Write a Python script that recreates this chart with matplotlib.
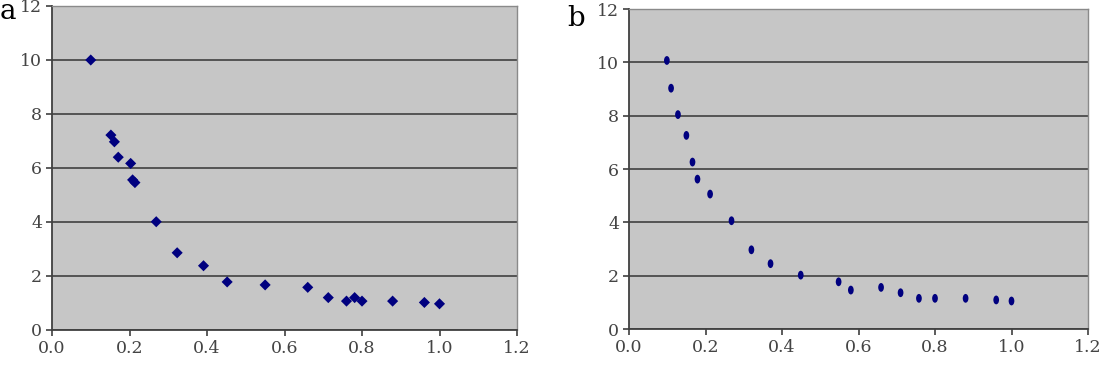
"""
Two scatter panels (a, b): decay of y with x, Excel-style grey plot area.
"""
import numpy as np
import matplotlib
matplotlib.use("Agg")
import matplotlib.pyplot as plt
from matplotlib.path import Path
from matplotlib.transforms import Affine2D

# panel a
xa = [0.10, 0.152, 0.161, 0.171, 0.203, 0.208, 0.214, 0.269, 0.323, 0.391,
      0.452, 0.55, 0.66, 0.713, 0.76, 0.781, 0.80, 0.879, 0.961, 1.0]
ya = [10.0, 7.22, 6.97, 6.4, 6.17, 5.56, 5.46, 4.01, 2.86, 2.38,
      1.78, 1.67, 1.58, 1.2, 1.07, 1.2, 1.07, 1.07, 1.02, 0.97]

# panel b
xb = [0.099, 0.11, 0.128, 0.15, 0.166, 0.179, 0.212, 0.268, 0.32, 0.37,
      0.449, 0.548, 0.58, 0.659, 0.71, 0.758, 0.80, 0.88, 0.96, 1.0]
yb = [10.07, 9.03, 8.04, 7.26, 6.26, 5.62, 5.06, 4.06, 2.97, 2.45,
      2.02, 1.77, 1.46, 1.56, 1.36, 1.15, 1.15, 1.15, 1.09, 1.05]

XTICKS = [0.0, 0.2, 0.4, 0.6, 0.8, 1.0, 1.2]
YTICKS = [0, 2, 4, 6, 8, 10, 12]

NAVY = "#00007f"
BG = "#c6c6c6"
GRID = "#4a4a4a"

plt.rcParams.update({"font.family": ["DejaVu Serif"], "font.size": 12.5})

# tall ellipse marker for panel b
circ = Path.unit_circle()
ellipse = circ.transformed(Affine2D().scale(0.65, 1.0))

def style(ax):
    ax.set_facecolor(BG)
    ax.set_xlim(0, 1.2)
    ax.set_ylim(0, 12)
    ax.set_xticks(XTICKS)
    ax.set_xticklabels([f"{t:.1f}" for t in XTICKS])
    ax.set_yticks(YTICKS)
    ax.yaxis.grid(True, color=GRID, lw=1.3)
    ax.set_axisbelow(True)
    for s in ("left", "bottom"):
        ax.spines[s].set_color("#404040")
        ax.spines[s].set_linewidth(1.3)
    for s in ("top", "right"):
        ax.spines[s].set_color("#8a8a8a")
        ax.spines[s].set_linewidth(1.0)
    ax.tick_params(direction="out", length=4, width=1.2, color="#404040",
                   labelcolor="#444444", pad=3)

fig = plt.figure(figsize=(10.99, 3.66), dpi=100)
ax1 = fig.add_axes([52/1099, 1-330/366, 465/1099, 324/366])
ax2 = fig.add_axes([629/1099, 1-329/366, 459/1099, 320/366])

style(ax1)
style(ax2)
ax1.scatter(xa, ya, marker="D", s=32, color=NAVY, edgecolors="none", zorder=3)
ax2.scatter(xb, yb, marker=ellipse, s=40, color=NAVY, edgecolors="none", zorder=3)

fig.text(0.0, 1-19/366, "a", fontsize=20, family=["DejaVu Serif"], va="baseline")
fig.text(567/1099, 1-26/366, "b", fontsize=20, family=["DejaVu Serif"], va="baseline")

fig.savefig("out.png", dpi=100)
